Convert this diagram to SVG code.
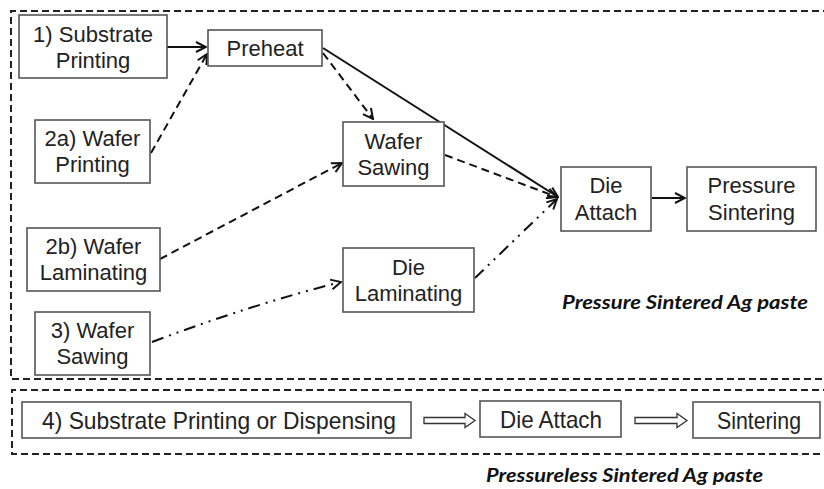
<svg xmlns="http://www.w3.org/2000/svg" width="824" height="489" viewBox="0 0 824 489">
<defs>
<style>
.box{fill:#fff;stroke:#555;stroke-width:1.6}
.t{font-family:"Liberation Sans",Arial,sans-serif;font-size:22px;fill:#222;text-anchor:middle}
.tb{font-family:"Liberation Sans",Arial,sans-serif;font-size:24px;fill:#222}
.frame{fill:none;stroke:#222;stroke-width:2;stroke-dasharray:7 4}
.c{fill:none;stroke:#111;stroke-width:2}
.dash{stroke-dasharray:8 5}
.dd{stroke-dasharray:12 6 2 6 2 6}
.lbl{font-family:Lato,"Open Sans",sans-serif;font-weight:bold;font-style:italic;font-size:19px;fill:#111}
.hollow{fill:#fff;stroke:#333;stroke-width:1.3}
</style>
<marker id="ah" viewBox="0 0 12 12" refX="11" refY="6" markerWidth="12" markerHeight="12" markerUnits="userSpaceOnUse" orient="auto">
<path d="M1,1 L11,6 L1,11" fill="none" stroke="#111" stroke-width="2"/>
</marker>
</defs>
<rect width="824" height="489" fill="#fff"/>
<g id="frames">
<path class="frame" d="M830,11 H11 V379 H830"/>
<path class="frame" d="M830,390 H12 V454 H830"/>
</g>
<g id="connectors">
<line class="c" x1="167" y1="47" x2="206" y2="47" marker-end="url(#ah)"/>
<line class="c dash" x1="151" y1="153" x2="207" y2="54" marker-end="url(#ah)"/>
<line class="c dash" x1="323" y1="53" x2="373" y2="119" marker-end="url(#ah)"/>
<line class="c" x1="323" y1="48" x2="558" y2="197" marker-end="url(#ah)"/>
<line class="c dash" x1="445" y1="155" x2="557" y2="197" marker-end="url(#ah)"/>
<line class="c dash" x1="160" y1="259" x2="342" y2="163" marker-end="url(#ah)"/>
<path class="c dd" d="M152,342 Q250,305 341,282" marker-end="url(#ah)"/>
<line class="c dd" x1="475" y1="278" x2="557" y2="199" marker-end="url(#ah)"/>
<line class="c" x1="652" y1="198" x2="685" y2="198" marker-end="url(#ah)"/>
<path class="hollow" d="M424,417.5 H465 V413.5 L475,420.5 L465,427.5 V423.5 H424 Z"/>
<path class="hollow" d="M635,417.5 H677 V413.5 L687,420.5 L677,427.5 V423.5 H635 Z"/>
</g>
<g id="n1"><rect class="box" x="19" y="15" width="148" height="63"/><text class="t" x="93" y="42">1) Substrate</text><text class="t" x="93" y="68">Printing</text></g>
<g id="preheat"><rect class="box" x="208" y="30" width="114" height="36"/><text class="t" x="265" y="56">Preheat</text></g>
<g id="n2a"><rect class="box" x="35" y="120" width="115" height="63"/><text class="t" x="92.5" y="146">2a) Wafer</text><text class="t" x="92.5" y="172">Printing</text></g>
<g id="wsaw"><rect class="box" x="343" y="122" width="101" height="64"/><text class="t" x="393.5" y="149">Wafer</text><text class="t" x="393.5" y="175">Sawing</text></g>
<g id="dieattach"><rect class="box" x="561" y="167" width="90" height="64"/><text class="t" x="606" y="193">Die</text><text class="t" x="606" y="220">Attach</text></g>
<g id="psinter"><rect class="box" x="687" y="167" width="129" height="64"/><text class="t" x="751.5" y="193">Pressure</text><text class="t" x="751.5" y="220">Sintering</text></g>
<g id="n2b"><rect class="box" x="27" y="228" width="133" height="63"/><text class="t" x="93.5" y="254">2b) Wafer</text><text class="t" x="93.5" y="280">Laminating</text></g>
<g id="dielam"><rect class="box" x="343" y="248" width="131" height="64"/><text class="t" x="408.5" y="275">Die</text><text class="t" x="408.5" y="301">Laminating</text></g>
<g id="n3"><rect class="box" x="35" y="312" width="115" height="63"/><text class="t" x="92.5" y="338">3) Wafer</text><text class="t" x="92.5" y="364">Sawing</text></g>
<g id="n4"><rect class="box" x="22" y="402" width="389" height="36"/><text class="tb" x="42" y="429" textLength="354" lengthAdjust="spacingAndGlyphs">4) Substrate  Printing or Dispensing</text></g>
<g id="dieattach2"><rect class="box" x="480" y="401" width="141" height="36"/><text class="tb" x="500" y="428" textLength="102" lengthAdjust="spacingAndGlyphs">Die Attach</text></g>
<g id="sinter"><rect class="box" x="693" y="402" width="127" height="36"/><text class="tb" x="717" y="429" textLength="84" lengthAdjust="spacingAndGlyphs">Sintering</text></g>
<g id="labels">
<text class="lbl" x="562" y="309" textLength="246" lengthAdjust="spacingAndGlyphs">Pressure Sintered Ag paste</text>
<text class="lbl" x="486" y="482" textLength="277" lengthAdjust="spacingAndGlyphs">Pressureless  Sintered Ag paste</text>
</g>
</svg>
